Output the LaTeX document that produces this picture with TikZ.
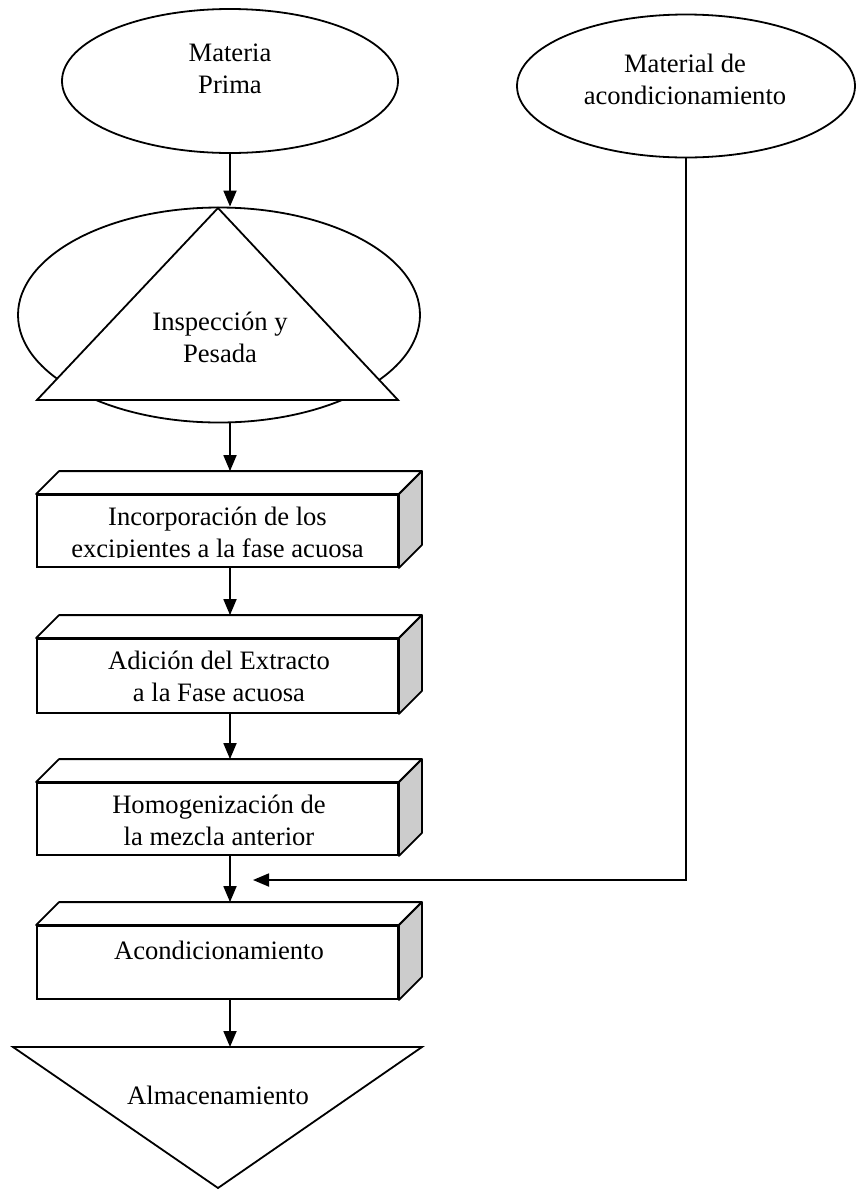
\documentclass[tikz,border=0pt]{standalone}
\usepackage{fontspec}
\setmainfont{Liberation Serif}
\usepackage{tikz}
\usetikzlibrary{shapes.geometric,arrows.meta}

\begin{document}
\begin{tikzpicture}[
    x=0.5pt, y=-0.5pt,
    elipse/.style ={ellipse, draw, line width=0.9pt, inner sep=0pt, fill=white},
    caja/.style   ={draw, line width=0.9pt, fill=white, minimum width=180.5pt,
                    inner sep=0pt},
    texto/.style  ={font=\fontsize{13.3}{16}\selectfont, align=center, inner sep=0pt},
    flecha/.style ={-{Triangle[length=8pt,width=6.5pt]}, line width=0.9pt}
  ]
    \useasboundingbox (0,0) rectangle (856,1190);

    % --- entradas ---
    \node[elipse, minimum width=168pt, minimum height=72pt] (mp) at (230, 81) {};
    \node[texto] (mp-t) at (230, 69) {Materia\\Prima};
    \node[elipse, minimum width=169pt, minimum height=71.5pt] (ma) at (686, 86) {};
    \node[texto] (ma-t) at (685, 79) {Material de\\acondicionamiento};

    % --- inspeccion: elipse con triangulo encima ---
    \node[elipse, minimum width=201pt, minimum height=107.5pt] (insp) at (219, 315) {};
    \draw[line width=0.9pt, fill=white] (218, 208) -- (398, 400) -- (37, 400) -- cycle;
    \node[texto] (insp-t) at (220, 337) {Inspección y\\Pesada};

    % --- cajas de proceso ---
    \node[caja, minimum height=36pt]   (b1) at (217.5, 531)   {};
    \node[caja, minimum height=37pt]   (b2) at (217.5, 676)   {};
    \node[caja, minimum height=36pt]   (b3) at (217.5, 819)   {};
    \node[caja, minimum height=36.5pt] (b4) at (217.5, 962.5) {};
    % caras superior y lateral
    \foreach \b in {b1,b2,b3,b4} {
      \draw[line width=0.9pt, fill=white, line join=round]
        (\b.north west) -- ++(23,-23) -- ([shift={(23,-23)}]\b.north east)
        -- (\b.north east) -- cycle;
      \draw[line width=0.9pt, fill=black!20, line join=round]
        (\b.north east) -- ++(23,-23) -- ([shift={(23,-23)}]\b.south east)
        -- (\b.south east) -- cycle;
      \coordinate (\b-top) at ([yshift=11.5pt]\b.north -| mp.south);
    }
    \begin{scope}
      \clip (b1.north west) rectangle ([yshift=5pt]b1.south east);
      \node[texto] (b1-t) at (217.5, 535) {Incorporación de los\\excipientes a la fase acuosa};
    \end{scope}
    \node[texto] (b2-t) at (219, 676.5) {Adición del Extracto\\a la Fase acuosa};
    \node[texto] (b3-t) at (219, 820) {Homogenización de\\la mezcla anterior};
    \node[texto] (b4-t) at (219, 950) {Acondicionamiento};

    % --- almacenamiento ---
    \draw[line width=0.9pt, fill=white] (13, 1047) -- (422, 1047) -- (218, 1188) -- cycle;
    \coordinate (alm-top) at (230, 1047);
    \node[texto] (alm-t) at (218, 1095) {Almacenamiento};

    % --- flechas ---
    \draw[flecha] (mp.south) -- (mp.south |- insp.north);
    \draw[flecha] (insp.south -| mp.south) -- (b1-top);
    \draw[flecha] (b1.south -| mp.south) -- (b2-top);
    \draw[flecha] (b2.south -| mp.south) -- (b3-top);
    \draw[flecha] (b3.south -| mp.south) -- (b4-top);
    \draw[flecha] (b4.south -| mp.south) -- (alm-top);
    % material de acondicionamiento
    \coordinate (junta) at (253, 880);
    \draw[flecha] (ma.south) |- (junta);
  \end{tikzpicture}
\end{document}
